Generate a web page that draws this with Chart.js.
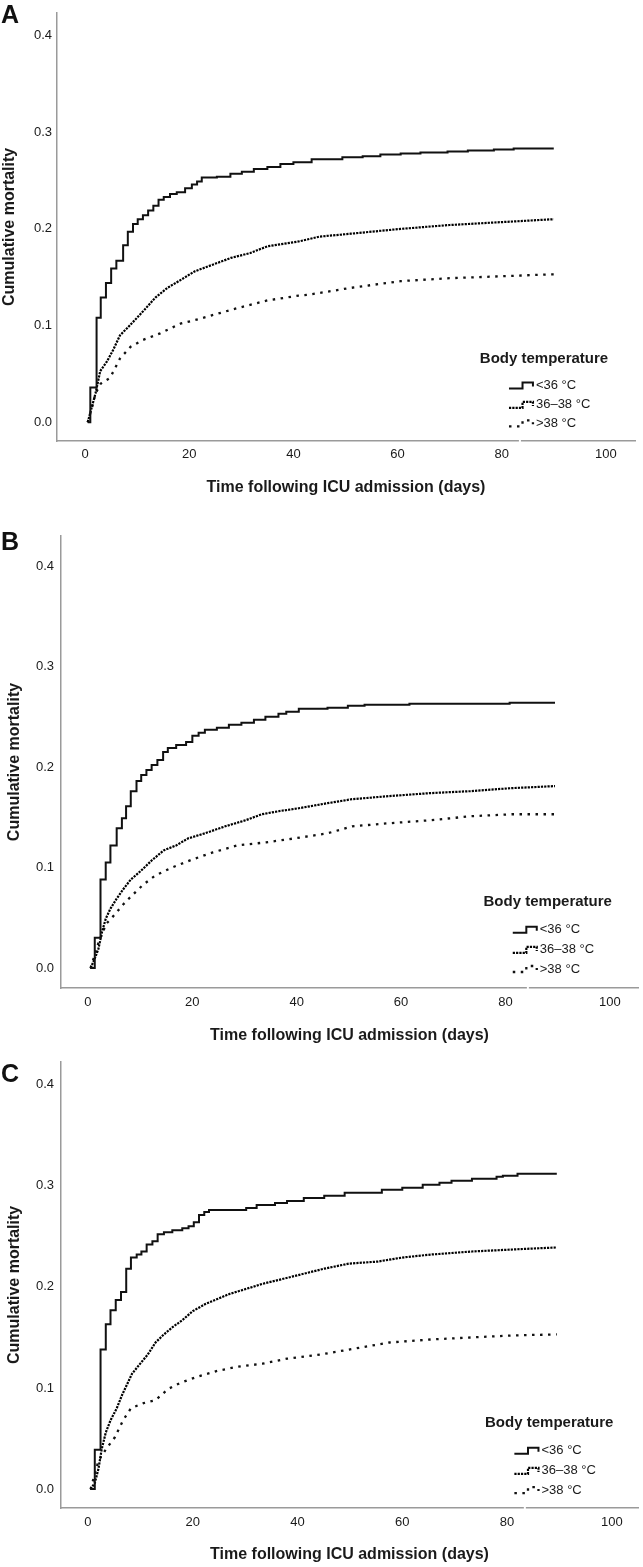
<!DOCTYPE html>
<html>
<head>
<meta charset="utf-8">
<script src="https://cdn.jsdelivr.net/npm/chart.js@4"></script>
<style>
  body { margin: 0; background: #fff; width: 643px; height: 1567px; overflow: hidden; position: relative; }
  canvas { position: absolute; left: 0; }
</style>
</head>
<body>
<canvas id="chartA" width="643" height="520" style="top:0px"></canvas>
<canvas id="chartB" width="643" height="527" style="top:520px"></canvas>
<canvas id="chartC" width="643" height="520" style="top:1047px"></canvas>
<script>
// tick labels
const xTicks = [0, 20, 40, 60, 80, 100];
const yTicks = [0, 0.1, 0.2, 0.3, 0.4];
const seriesNames = ['<36 °C', '36–38 °C', '>38 °C'];
const xTitle = 'Time following ICU admission (days)';
const yTitle = 'Cumulative mortality';
const legendTitle = 'Body temperature';

// Panel A
const daysA1 = [0.5, 1, 2.2, 3, 4, 5, 6, 7.3, 8.2, 9.2, 10.1, 11.1, 12.1, 13.1, 14.1, 15.1, 16.3, 17.6, 19.2, 20.5, 21.5, 22.4, 25.3, 27.9, 30.1, 32.4, 35, 37.5, 40, 43.5, 49.4, 53.3, 56.7, 60.6, 64.4, 69.6, 73.5, 78.5, 82.3, 90];
const mortA1 = [0, 0.036, 0.108, 0.129, 0.144, 0.159, 0.167, 0.183, 0.197, 0.205, 0.210, 0.214, 0.219, 0.224, 0.230, 0.233, 0.236, 0.238, 0.242, 0.246, 0.249, 0.253, 0.254, 0.257, 0.259, 0.262, 0.264, 0.267, 0.269, 0.272, 0.274, 0.275, 0.277, 0.278, 0.279, 0.280, 0.281, 0.282, 0.283, 0.283];
const daysA2 = [0.5, 1, 2, 2.9, 4.2, 5.4, 6.7, 8, 9.6, 11.5, 13.5, 15.8, 18.3, 21, 24, 28, 31.7, 35, 41, 45, 51, 60.6, 70, 80, 90];
const mortA2 = [0, 0.010, 0.030, 0.053, 0.063, 0.075, 0.090, 0.097, 0.106, 0.117, 0.129, 0.139, 0.147, 0.156, 0.162, 0.170, 0.175, 0.182, 0.187, 0.192, 0.195, 0.200, 0.204, 0.207, 0.210];
const daysA3 = [0.5, 1.3, 2, 3, 4.8, 6.7, 8.7, 11, 14.4, 18.3, 22, 28.5, 35, 41, 43, 51, 60.6, 70, 80, 89.4, 90];
const mortA3 = [0, 0.015, 0.030, 0.040, 0.046, 0.066, 0.078, 0.085, 0.092, 0.102, 0.107, 0.117, 0.126, 0.131, 0.132, 0.139, 0.146, 0.149, 0.151, 0.153, 0.153];

// Panel B
const daysB1 = [0.4, 1.3, 2.4, 3.4, 4.3, 5.5, 6.5, 7.3, 8.2, 9.3, 10.2, 11.2, 12.2, 13.3, 14.4, 15.3, 16.9, 18.8, 20, 21.2, 22.4, 24.7, 27, 29.4, 31.8, 34, 36.5, 38, 40.4, 45.9, 49.8, 53, 61.6, 80.8, 89.5];
const mortB1 = [0, 0.030, 0.088, 0.105, 0.122, 0.139, 0.149, 0.161, 0.176, 0.186, 0.192, 0.197, 0.202, 0.207, 0.215, 0.219, 0.222, 0.225, 0.231, 0.234, 0.237, 0.239, 0.242, 0.244, 0.247, 0.250, 0.253, 0.255, 0.258, 0.259, 0.261, 0.262, 0.263, 0.264, 0.264];
const daysB2 = [0.5, 1.2, 2, 2.7, 3.4, 4.3, 5.5, 6.7, 8.2, 10.2, 12.2, 14.5, 16.9, 19.2, 22.4, 26.3, 30.2, 33.3, 36.5, 40.4, 45.9, 50.6, 57.6, 65.5, 73.3, 81.2, 89.5];
const mortB2 = [0, 0.008, 0.019, 0.036, 0.049, 0.059, 0.069, 0.078, 0.088, 0.097, 0.107, 0.117, 0.122, 0.129, 0.134, 0.141, 0.147, 0.153, 0.156, 0.159, 0.164, 0.168, 0.171, 0.174, 0.176, 0.179, 0.181];
const daysB3 = [0.5, 2, 3.5, 5.1, 6.7, 8.2, 10.6, 12.9, 16.1, 20, 23.9, 28.6, 34.1, 39.6, 45.9, 50.6, 57.6, 65.5, 73.3, 81.2, 89.5];
const mortB3 = [0, 0.025, 0.044, 0.053, 0.063, 0.071, 0.083, 0.092, 0.100, 0.108, 0.115, 0.122, 0.125, 0.129, 0.134, 0.141, 0.144, 0.147, 0.151, 0.153, 0.153];

// Panel C
const daysC1 = [0.4, 1.3, 2.4, 3.4, 4.3, 5.3, 6.3, 7.3, 8.2, 9.3, 10.2, 11.2, 12.3, 13.3, 14.5, 16.1, 18, 19.2, 20.2, 21.2, 22.2, 23.1, 30.2, 32.2, 35.7, 38, 41.2, 45.1, 49, 56.1, 60, 63.9, 67.1, 69.4, 73.3, 78, 79.2, 82, 89.5];
const mortC1 = [0, 0.039, 0.138, 0.163, 0.177, 0.187, 0.195, 0.218, 0.229, 0.232, 0.235, 0.242, 0.245, 0.252, 0.254, 0.256, 0.258, 0.260, 0.264, 0.271, 0.274, 0.276, 0.278, 0.281, 0.283, 0.285, 0.288, 0.290, 0.293, 0.296, 0.298, 0.301, 0.303, 0.305, 0.307, 0.309, 0.310, 0.312, 0.312];
const daysC2 = [0.5, 1.3, 2, 2.6, 3.4, 4.3, 5.5, 6.5, 7.5, 8.4, 9.8, 11.4, 12.9, 14.5, 16.1, 18, 20, 22.4, 24.7, 27, 30.2, 33.3, 37.3, 41.2, 45.1, 49.8, 55.3, 60, 65.5, 73.3, 81.2, 89.5];
const mortC2 = [0, 0.006, 0.020, 0.039, 0.056, 0.068, 0.080, 0.093, 0.104, 0.114, 0.123, 0.133, 0.145, 0.153, 0.160, 0.167, 0.176, 0.183, 0.188, 0.193, 0.198, 0.203, 0.208, 0.213, 0.218, 0.223, 0.225, 0.229, 0.232, 0.235, 0.237, 0.239];
const daysC3 = [0.5, 2, 3.5, 5.1, 6.7, 8.2, 10.6, 12.9, 15.3, 17.6, 20.8, 24.7, 28.6, 33.3, 38, 44.3, 49.8, 57.6, 65.5, 73.3, 81.2, 89.5];
const mortC3 = [0, 0.028, 0.040, 0.051, 0.068, 0.080, 0.085, 0.088, 0.099, 0.105, 0.111, 0.117, 0.121, 0.124, 0.129, 0.133, 0.138, 0.145, 0.148, 0.150, 0.152, 0.153];

const FONT = '"Liberation Sans", Arial, sans-serif';
const INK = '#1a1a1a';

// the solid curve keeps its KM steps, the two dotted ones are drawn as fine dotted curves
const lineStyles = [
  { borderColor: '#111', borderWidth: 2, borderDash: [], stepped: true },
  { borderColor: '#000', borderWidth: 2.2, borderDash: [2.2, 1.1], stepped: false },
  { borderColor: '#111', borderWidth: 2.3, borderDash: [2.5, 5.5], stepped: false }
];

function toPoints(days, mort) {
  return days.map((d, i) => ({ x: d, y: mort[i] }));
}

// letter, legend and the small break in the x axis
const decoPlugin = {
  id: 'deco',
  afterDraw(chart, args, o) {
    const { ctx, scales: { x, y } } = chart;
    ctx.save();
    // break in the x axis line under the legend
    const gx = x.getPixelForValue(o.gapAt);
    ctx.fillStyle = '#fff';
    ctx.fillRect(gx - 1, chart.chartArea.bottom - 2, 2, 4);

    ctx.fillStyle = '#111';
    ctx.font = 'bold 25px ' + FONT;
    ctx.textBaseline = 'alphabetic';
    ctx.textAlign = 'left';
    ctx.fillText(o.letter, 1, o.letterY);

    ctx.fillStyle = INK;
    ctx.font = 'bold 15px ' + FONT;
    ctx.textBaseline = 'middle';
    ctx.fillText(legendTitle, x.getPixelForValue(75.8), y.getPixelForValue(0.066));

    const rows = [0.038, 0.018, -0.001];
    ctx.font = '13px ' + FONT;
    seriesNames.forEach((name, i) => {
      const cy = y.getPixelForValue(rows[i]);
      const x0 = x.getPixelForValue(81.4), xm = x.getPixelForValue(84), x1 = x.getPixelForValue(86);
      const st = lineStyles[i];
      ctx.strokeStyle = st.borderColor;
      ctx.lineWidth = st.borderWidth;
      ctx.setLineDash(st.borderDash);
      ctx.beginPath();
      ctx.moveTo(x0, cy + 3);
      ctx.lineTo(xm, cy + 3);
      ctx.lineTo(xm, cy - 3);
      ctx.lineTo(x1, cy - 3);
      ctx.lineTo(x1, cy + 1);
      ctx.stroke();
      ctx.setLineDash([]);
      ctx.fillStyle = INK;
      ctx.fillText(name, x1 + 3, cy);
    });
    ctx.restore();
  }
};

function makePanel(id, letter, series, lay) {
  return new Chart(document.getElementById(id), {
    type: 'line',
    data: {
      datasets: series.map((s, i) => Object.assign({
        label: seriesNames[i],
        data: toPoints(s[0], s[1]),
        pointRadius: 0,
        fill: false
      }, lineStyles[i]))
    },
    options: {
      responsive: false,
      animation: false,
      layout: { padding: { top: lay.top, right: lay.right, left: 0, bottom: 0 } },
      plugins: {
        legend: { display: false },
        tooltip: { enabled: false },
        deco: { letter: letter, letterY: lay.letterY, gapAt: lay.gapAt }
      },
      scales: {
        x: {
          type: 'linear',
          min: lay.xmin, max: lay.xmax,
          afterFit: s => { s.height = lay.xh; },
          afterBuildTicks: s => { s.ticks = xTicks.map(v => ({ value: v })); },
          grid: { display: false, drawTicks: false },
          border: { display: true, color: '#9a9a9a', width: 1.5 },
          ticks: { color: INK, font: { family: FONT, size: 13 }, padding: lay.xtp, maxRotation: 0, autoSkip: false, callback: v => String(v) },
          title: { display: true, text: xTitle, color: INK, font: { family: FONT, size: 16, weight: 'bold' }, padding: { top: 0, bottom: lay.titlePad } }
        },
        y: {
          type: 'linear',
          min: lay.ymin, max: lay.ymax,
          afterFit: s => { s.width = lay.yw; },
          afterBuildTicks: s => { s.ticks = yTicks.map(v => ({ value: v })); },
          grid: { display: false, drawTicks: false },
          border: { display: true, color: '#9a9a9a', width: 1.5 },
          ticks: { color: INK, font: { family: FONT, size: 13 }, padding: lay.ytp, autoSkip: false, callback: v => v.toFixed(1) },
          title: { display: true, text: yTitle, color: INK, font: { family: FONT, size: 16, weight: 'bold' }, padding: { top: lay.yTitlePad, bottom: 0 } }
        }
      }
    },
    plugins: [decoPlugin]
  });
}

makePanel('chartA', 'A', [[daysA1, mortA1], [daysA2, mortA2], [daysA3, mortA3]], {
  top: 5, right: 8, yw: 57, xh: 79, xmin: -5.4, xmax: 105.6, ymin: -0.0193, ymax: 0.4234,
  titlePad: 22.4, xtp: 6, ytp: 5, yTitlePad: 0, letterY: 23, gapAt: 83.5
});
makePanel('chartB', 'B', [[daysB1, mortB1], [daysB2, mortB2], [daysB3, mortB3]], {
  top: 16, right: 5, yw: 61, xh: 59, xmin: -5.17, xmax: 105.4, ymin: -0.0199, ymax: 0.4299,
  titlePad: 1.4, xtp: 7, ytp: 7, yTitlePad: 5, letterY: 30, gapAt: 84.3
});
makePanel('chartC', 'C', [[daysC1, mortC1], [daysC2, mortC2], [daysC3, mortC3]], {
  top: 12, right: 5, yw: 61, xh: 59, xmin: -5.15, xmax: 105, ymin: -0.0187, ymax: 0.4226,
  titlePad: 2.4, xtp: 7, ytp: 7, yTitlePad: 5, letterY: 35, gapAt: 83.4
});
</script>
</body>
</html>
